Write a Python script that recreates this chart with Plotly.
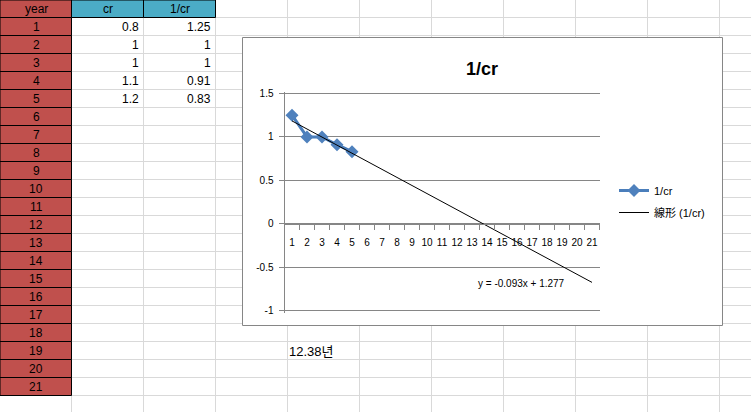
import plotly.graph_objects as go

# ---------------- data ----------------
row_labels = ["1", "2", "3", "4", "5", "6", "7", "8", "9", "10", "11",
              "12", "13", "14", "15", "16", "17", "18", "19", "20", "21"]
years = [1, 2, 3, 4, 5]
cr = [0.8, 1, 1, 1.1, 1.2]
inv_cr = [1.25, 1, 1, 0.91, 0.83]
header = ["year", "cr", "1/cr"]

x_categories = [1, 2, 3, 4, 5, 6, 7, 8, 9, 10, 11, 12, 13, 14, 15, 16, 17, 18, 19, 20, 21]
x_ticktext = [str(v) for v in x_categories]
y_tickvals = [-1, -0.5, 0, 0.5, 1, 1.5]
y_ticktext = ["-1", "-0.5", "0", "0.5", "1", "1.5"]

trend_slope = -0.093
trend_intercept = 1.277
trend_x = [1, 21]
trend_label = "y = -0.093x + 1.277"
result_text = "12.38년"
chart_title = "1/cr"

# ---------------- geometry helpers ----------------
W, H = 751, 412


def px(x):
    return x / W


def py(y):
    return 1 - y / H


RED = "#C0504D"
BLUE = "#4BACC6"
GRID = "#D9D9D9"
AXIS = "#868686"
FONT = "Liberation Sans, Arial, sans-serif"

shapes = []
annotations = []

# sheet gridlines
col_w, row_h = 72, 18
col_edges = [71.5 + col_w * k for k in range(11)]
row_edges = [17.5 + row_h * n for n in range(23)]
for cx in col_edges:
    shapes.append(dict(type="line", xref="paper", yref="paper", layer="below",
                       x0=px(cx), x1=px(cx), y0=0, y1=1, line=dict(color=GRID, width=1)))
for ry in row_edges:
    if ry > H:
        continue
    shapes.append(dict(type="line", xref="paper", yref="paper", layer="below",
                       x0=0, x1=1, y0=py(ry), y1=py(ry), line=dict(color=GRID, width=1)))

# column A (red) cells incl header
a_edges = [0] + row_edges[:22]
for i in range(len(a_edges) - 1):
    shapes.append(dict(type="rect", xref="paper", yref="paper", layer="below",
                       x0=0, x1=px(71.5), y0=py(a_edges[i + 1]), y1=py(a_edges[i]),
                       fillcolor=RED, line=dict(color="#000000", width=1)))
# header B, C (blue)
for c in range(2):
    shapes.append(dict(type="rect", xref="paper", yref="paper", layer="below",
                       x0=px(71.5 + col_w * c), x1=px(71.5 + col_w * (c + 1)),
                       y0=py(17.5), y1=1,
                       fillcolor=BLUE, line=dict(color="#000000", width=1)))

# chart box
shapes.append(dict(type="rect", xref="paper", yref="paper", layer="below",
                   x0=px(242.5), x1=px(722.5), y0=py(325.5), y1=py(37.5),
                   fillcolor="#FFFFFF", line=dict(color=AXIS, width=1)))

# sheet text
for j, h in enumerate(header):
    annotations.append(dict(xref="paper", yref="paper", x=px(36 + col_w * j), y=py(9),
                            text=h, showarrow=False, xanchor="center", yanchor="middle",
                            font=dict(family=FONT, size=12, color="#000")))
for i, lab in enumerate(row_labels):
    annotations.append(dict(xref="paper", yref="paper", x=px(36), y=py(27 + row_h * i),
                            text=lab, showarrow=False, xanchor="center", yanchor="middle",
                            font=dict(family=FONT, size=12, color="#000")))
for i in range(len(years)):
    annotations.append(dict(xref="paper", yref="paper", x=px(140.5), y=py(27 + row_h * i),
                            text=f"{cr[i]:g}", showarrow=False, xanchor="right", yanchor="middle",
                            font=dict(family=FONT, size=12, color="#000")))
    annotations.append(dict(xref="paper", yref="paper", x=px(212.5), y=py(27 + row_h * i),
                            text=f"{inv_cr[i]:g}", showarrow=False, xanchor="right", yanchor="middle",
                            font=dict(family=FONT, size=12, color="#000")))
annotations.append(dict(xref="paper", yref="paper", x=px(287), y=py(351),
                        text=result_text, showarrow=False, xanchor="left", yanchor="middle",
                        font=dict(family="Liberation Sans, Noto Sans CJK KR, sans-serif", size=13, color="#000")))

# chart title and trend label
annotations.append(dict(xref="paper", yref="paper", x=px(482), y=py(69),
                        text="<b>" + chart_title + "</b>", showarrow=False,
                        xanchor="center", yanchor="middle",
                        font=dict(family=FONT, size=18, color="#000")))
annotations.append(dict(xref="paper", yref="paper", x=px(476), y=py(283),
                        text=trend_label, showarrow=False, xanchor="left", yanchor="middle",
                        font=dict(family=FONT, size=10, color="#000")))

# ---------------- traces ----------------
fig = go.Figure()
fig.add_trace(go.Scatter(
    x=years, y=inv_cr, mode="lines+markers", name="1/cr", legendgroup="a",
    line=dict(color="#4A7EBB", width=3),
    marker=dict(symbol="diamond", size=10, color="#4F81BD"),
))
fig.add_trace(go.Scatter(
    x=trend_x, y=[trend_slope * x + trend_intercept for x in trend_x],
    mode="lines", name="線形 (1/cr)", legendgroup="b",
    line=dict(color="#000000", width=1),
))

# plot area (pixels) for y range -1 .. 1.5
plot_top, plot_bot = 93.5, 310.5
y_lo, y_hi = -1, 1.5
upp = (y_hi - y_lo) / (plot_bot - plot_top)  # units per pixel
zero_y = plot_bot - (0 - y_lo) / upp

fig.update_layout(
    width=W, height=H, autosize=False,
    margin=dict(l=0, r=0, t=0, b=0, pad=0, autoexpand=False),
    paper_bgcolor="#FFFFFF", plot_bgcolor="rgba(0,0,0,0)",
    shapes=shapes, annotations=annotations,
    showlegend=True,
    legend=dict(x=px(614), y=py(176), xanchor="left", yanchor="top",
                font=dict(family="Liberation Sans, Noto Sans CJK JP, sans-serif", size=11, color="#000"),
                itemwidth=30, bgcolor="rgba(0,0,0,0)", tracegroupgap=3),
    xaxis=dict(
        domain=[px(284.5), px(599.5)], range=[0.5, 21.5],
        anchor="free", position=py(zero_y), automargin=False,
        tickmode="array", tickvals=x_categories, ticktext=x_ticktext,
        ticks="outside", ticklen=5, tickcolor="rgba(0,0,0,0)",
        ticklabelstandoff=4,
        minor=dict(tickmode="array", tickvals=[k + 0.5 for k in range(22)],
                   ticks="outside", ticklen=5, tickcolor=AXIS, showgrid=False),
        showgrid=False, zeroline=False, showline=True, linecolor=AXIS, linewidth=1,
        tickfont=dict(family=FONT, size=10, color="#000"),
        fixedrange=True,
    ),
    yaxis=dict(
        domain=[py(plot_bot + 2), py(plot_top - 2)],
        range=[y_lo - 2 * upp, y_hi + 2 * upp], automargin=False,
        tickmode="array", tickvals=y_tickvals, ticktext=y_ticktext,
        ticks="outside", ticklen=5, tickcolor=AXIS,
        ticklabelstandoff=3,
        showgrid=True, gridcolor=AXIS, gridwidth=1, zeroline=False,
        showline=True, linecolor=AXIS, linewidth=1,
        tickfont=dict(family=FONT, size=10, color="#000"),
        fixedrange=True,
    ),
)

fig.write_html(
    "out.html",
    config={"displayModeBar": False, "staticPlot": True},
    post_script=("document.documentElement.style.margin='0';"
                 "document.body.style.margin='0';"
                 "document.documentElement.style.overflow='hidden';"
                 "document.body.style.overflow='hidden';"),
)
